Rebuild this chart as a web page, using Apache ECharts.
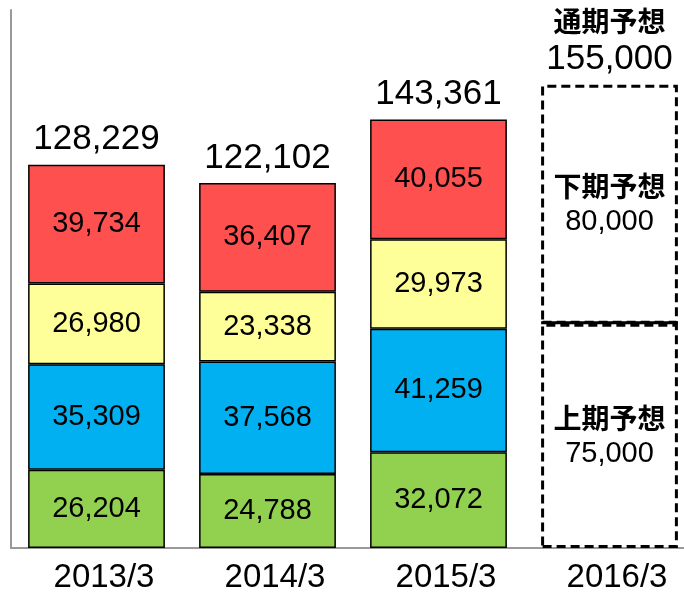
<!DOCTYPE html>
<html><head><meta charset="utf-8">
<script src="https://cdn.jsdelivr.net/npm/echarts@6/dist/echarts.min.js"></script>
<style>html,body{margin:0;padding:0;background:#fff;overflow:hidden}#c{width:695px;height:594px}</style>
</head><body><div id="c"></div>
<script>
const categories = ['2013/3', '2014/3', '2015/3', '2016/3'];
const green  = [26204, 24788, 32072, null];
const blue   = [35309, 37568, 41259, null];
const yellow = [26980, 23338, 29973, null];
const red    = [39734, 36407, 40055, null];
const forecastFirst  = [null, null, null, 75000];
const forecastSecond = [null, null, null, 80000];
const totals = [128229, 122102, 143361, 155000];
const forecastLabels = ['上期予想', '下期予想', '通期予想'];

const NUM = '"Liberation Sans", Arial, sans-serif';
const CJK = '"Noto Sans CJK JP", sans-serif';
const fmt = v => v.toLocaleString('en-US');

function seg(name, data, color) {
  return {
    name, type: 'bar', stack: 'a', data, barCategoryGap: '20%',
    itemStyle: { color, borderColor: '#000', borderWidth: 1.5 },
    label: { show: true, position: 'inside', color: '#000', fontFamily: NUM, fontSize: 29,
      formatter: p => fmt(p.value) }
  };
}
function fc(name, data, title) {
  return {
    name, type: 'bar', stack: 'a', data,
    itemStyle: { color: '#fff', borderColor: '#000', borderWidth: 3, borderType: [9, 5] },
    label: { show: true, position: 'inside', color: '#000', lineHeight: 36,
      formatter: p => '{t|' + title + '}\n{n|' + fmt(p.value) + '}',
      rich: { t: { fontFamily: CJK, fontWeight: 'bold', fontSize: 28, lineHeight: 36 },
              n: { fontFamily: NUM, fontSize: 29, lineHeight: 36 } } }
  };
}

const chart = echarts.init(document.getElementById('c'));
chart.setOption({
  animation: false,
  grid: { left: 11, top: 10, right: 0, bottom: 44 },
  xAxis: { type: 'category', data: categories,
    axisLine: { lineStyle: { color: '#999', width: 2 } }, axisTick: { show: false },
    axisLabel: { color: '#000', fontFamily: NUM, fontSize: 33, margin: 13, padding: [0, 0, 0, 15] } },
  yAxis: { type: 'value', min: 0, max: 180000, splitLine: { show: false },
    axisLine: { show: true, lineStyle: { color: '#999', width: 2 } }, axisTick: { show: false },
    axisLabel: { show: false } },
  series: [
    seg('green', green, '#92D050'),
    seg('blue', blue, '#00B0F0'),
    seg('yellow', yellow, '#FFFF99'),
    seg('red', red, '#FF5050'),
    fc('first', forecastFirst, forecastLabels[0]),
    fc('second', forecastSecond, forecastLabels[1]),
    { name: 'total', type: 'bar', stack: 'a', data: totals.map(() => 0),
      itemStyle: { color: 'transparent' },
      label: { show: true, position: 'top', distance: 7, color: '#000',
        formatter: p => p.dataIndex === 3 ? '{t|' + forecastLabels[2] + '}\n{n|' + fmt(totals[p.dataIndex]) + '}' : '{n|' + fmt(totals[p.dataIndex]) + '}',
        rich: { t: { fontFamily: CJK, fontWeight: 'bold', fontSize: 28, lineHeight: 40 },
                n: { fontFamily: NUM, fontSize: 35, lineHeight: 36 } } } },
    { name: 'divider', type: 'custom', data: [[3, 75000]], encode: { x: 0, y: 1 }, z: 10,
      renderItem: (params, api) => {
        const pt = api.coord([api.value(0), api.value(1)]);
        const w = api.size([1, 0])[0] * 0.8;
        return { type: 'line', z2: 100, shape: { x1: pt[0] - w / 2, y1: pt[1] - 1, x2: pt[0] + w / 2, y2: pt[1] - 1 },
          style: { stroke: '#000', lineWidth: 3 } };
      } }
  ]
});
</script></body></html>
